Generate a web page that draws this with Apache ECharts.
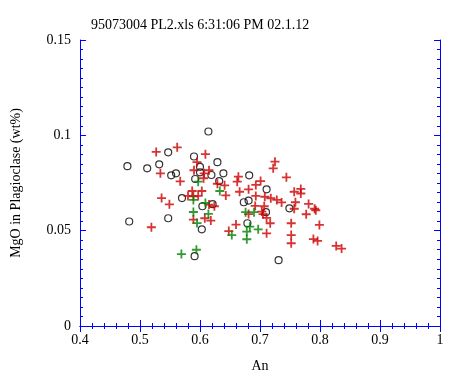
<!DOCTYPE html>
<html><head><meta charset="utf-8">
<script src="https://cdn.jsdelivr.net/npm/echarts@6/dist/echarts.min.js"></script>
<style>html,body{margin:0;padding:0;background:#fff}#c{width:458px;height:378px}</style>
</head><body><div id="c"></div>
<script>
const titleText = '95073004 PL2.xls 6:31:06 PM 02.1.12';
const xName = 'An';
const yName = 'MgO in Plagioclase (wt%)';

const circleX = [0.614,0.590,0.547,0.629,0.479,0.512,0.532,0.600,0.600,0.619,0.639,0.552,0.560,0.592,0.632,0.570,0.621,0.604,0.482,0.547,0.603,0.591,0.682,0.711,0.673,0.681,0.749,0.710,0.679,0.731];
const circleY = [0.1020,0.0889,0.0911,0.0859,0.0838,0.0827,0.0848,0.0835,0.0806,0.0792,0.0801,0.0790,0.0801,0.0771,0.0760,0.0671,0.0639,0.0628,0.0548,0.0565,0.0507,0.0366,0.0790,0.0717,0.0649,0.0658,0.0617,0.0597,0.0539,0.0345];

const redX = [0.562,0.527,0.609,0.595,0.590,0.615,0.607,0.534,0.606,0.567,0.629,0.641,0.587,0.603,0.580,0.589,0.597,0.536,0.643,0.549,0.615,0.624,0.519,0.589,0.608,0.618,0.648,0.725,0.722,0.744,0.664,0.662,0.701,0.693,0.681,0.666,0.693,0.768,0.757,0.768,0.708,0.718,0.728,0.736,0.759,0.781,0.692,0.707,0.757,0.793,0.791,0.777,0.703,0.681,0.705,0.711,0.717,0.660,0.711,0.752,0.752,0.752,0.799,0.789,0.796,0.827,0.836];
const redY = [0.0937,0.0913,0.0901,0.0860,0.0817,0.0817,0.0801,0.0801,0.0775,0.0759,0.0746,0.0738,0.0708,0.0708,0.0682,0.0680,0.0682,0.0671,0.0685,0.0638,0.0637,0.0628,0.0518,0.0558,0.0565,0.0553,0.0498,0.0862,0.0827,0.0780,0.0783,0.0757,0.0760,0.0740,0.0717,0.0704,0.0682,0.0719,0.0704,0.0695,0.0678,0.0670,0.0661,0.0648,0.0649,0.0640,0.0630,0.0628,0.0615,0.0607,0.0615,0.0586,0.0600,0.0587,0.0587,0.0567,0.0539,0.0532,0.0486,0.0539,0.0477,0.0434,0.0530,0.0456,0.0446,0.0420,0.0406];

const greenX = [0.597,0.633,0.589,0.609,0.589,0.614,0.595,0.569,0.594,0.676,0.690,0.683,0.697,0.678,0.653,0.678];
const greenY = [0.0757,0.0708,0.0661,0.0645,0.0598,0.0588,0.0540,0.0377,0.0400,0.0597,0.0597,0.0521,0.0507,0.0495,0.0477,0.0455];

const xTicks = {min: 0.4, max: 1, interval: 0.1, minorInterval: 0.02};
const yTicks = {min: 0, max: 0.15, interval: 0.05, minorInterval: 0.005};

const pairs = (xs, ys) => xs.map((x, i) => [x, ys[i]]);
const cross = 'path://M4,0H6V4H10V6H6V10H4V6H0V4H4Z';
const blue = '#0000ff';
const font = '"Liberation Serif", "DejaVu Serif", serif';
const labelStyle = {color: '#000', fontFamily: font, fontSize: 14};

function mkAxis(t, position, major, extra) {
  return Object.assign({
    type: 'value', position: position, min: t.min, max: t.max,
    interval: major ? t.interval : t.minorInterval,
    axisLine: {show: major, lineStyle: {color: blue, width: 1}},
    axisTick: {show: true, inside: true, length: major ? 6 : 3, lineStyle: {color: blue, width: 1}},
    splitLine: {show: false},
    axisLabel: {show: false}
  }, extra || {});
}

const chart = echarts.init(document.getElementById('c'), null, {renderer: 'canvas'});
chart.setOption({
  animation: false,
  backgroundColor: '#fff',
  title: {text: titleText, left: 86, top: 13, textStyle: {fontFamily: font, fontSize: 14, fontWeight: 'normal', color: '#000'}},
  grid: {left: 80, right: 18, top: 40, bottom: 52},
  xAxis: [
    mkAxis(xTicks, 'bottom', true, {name: xName, nameLocation: 'middle', nameGap: 33, nameTextStyle: labelStyle,
      axisLabel: Object.assign({show: true, margin: 7}, labelStyle)}),
    mkAxis(xTicks, 'top', true),
    mkAxis(xTicks, 'bottom', false),
    mkAxis(xTicks, 'top', false)
  ],
  yAxis: [
    mkAxis(yTicks, 'left', true, {name: yName, nameLocation: 'middle', nameGap: 57, nameTextStyle: labelStyle,
      axisLabel: Object.assign({show: true, margin: 9}, labelStyle)}),
    mkAxis(yTicks, 'right', true),
    mkAxis(yTicks, 'left', false),
    mkAxis(yTicks, 'right', false)
  ],
  series: [
    {type: 'scatter', xAxisIndex: 0, yAxisIndex: 0, data: pairs(circleX, circleY), symbol: 'circle', symbolSize: 7,
      itemStyle: {color: 'rgba(0,0,0,0)', borderColor: '#000', borderWidth: 1.2}},
    {type: 'scatter', xAxisIndex: 0, yAxisIndex: 0, data: pairs(redX, redY), symbol: cross, symbolSize: 9,
      itemStyle: {color: '#cc0000'}},
    {type: 'scatter', xAxisIndex: 0, yAxisIndex: 0, data: pairs(greenX, greenY), symbol: cross, symbolSize: 9,
      itemStyle: {color: '#008000'}}
  ]
});
</script>
</body></html>
